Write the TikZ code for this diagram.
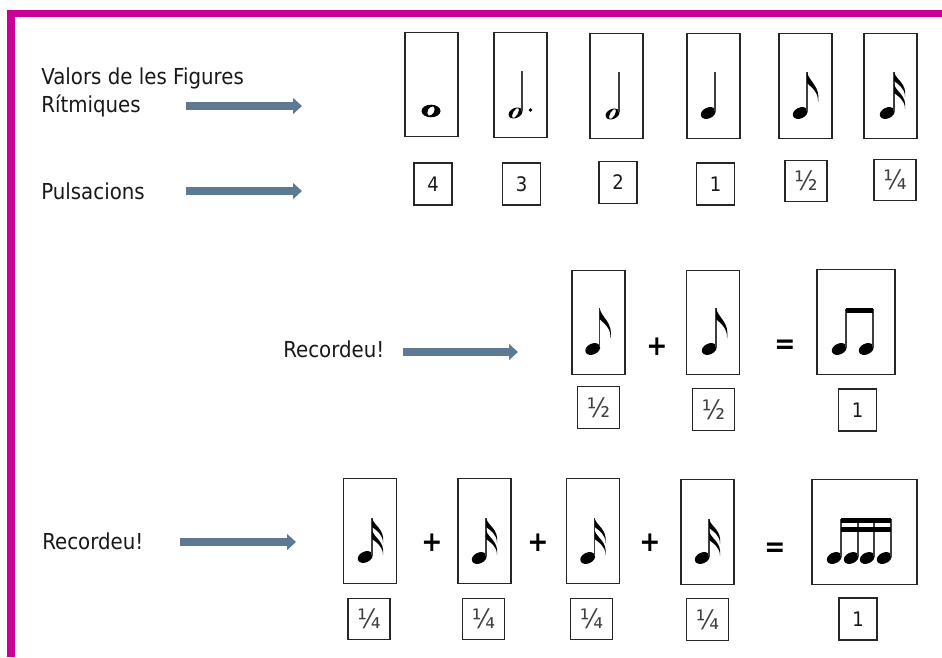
\documentclass[tikz,border=0pt]{standalone}
\usepackage{fontspec}
\setmainfont[FakeStretch=0.9]{DejaVu Sans}
\usetikzlibrary{arrows.meta}
\definecolor{mag}{RGB}{204,0,153}
\definecolor{arrcol}{RGB}{94,121,148}
\definecolor{txt}{RGB}{25,25,25}
\newcommand\qnote[3]{%
  \fill[rotate around={25:(#1-6.8,#3)}] (#1-6.8,#3) ellipse (7.8 and 5.4);
  \draw[stemline] (#1,#3-2) -- (#1,#2);}
\newcommand\hnote[3]{%
  \fill[even odd rule] [rotate around={25:(#1-6.5,#3)}] (#1-6.5,#3) ellipse (7.3 and 5.0)
     [rotate around={35:(#1-6.5,#3)}] (#1-6.5,#3) ellipse (5.6 and 2.4);
  \draw[stemline] (#1,#3-2) -- (#1,#2);}
\newcommand\flagE[2]{%
  \fill (#1,#2) .. controls (#1+2,#2+10) and (#1+14,#2+14) .. (#1+11,#2+31)
     .. controls (#1+12,#2+20) and (#1+4,#2+15) .. (#1,#2+11) -- cycle;}
\newcommand\flagS[2]{%
  \fill (#1,#2) .. controls (#1+2,#2+8) and (#1+13,#2+11) .. (#1+11,#2+25)
     .. controls (#1+11,#2+16) and (#1+4,#2+12) .. (#1,#2+9) -- cycle;}
\begin{document}
\begin{tikzpicture}[x=0.75pt,y=-0.75pt,
  lbl/.style={inner sep=0pt, text=txt, font=\fontsize{16.5}{19}\selectfont},
  notebox/.style={draw=black!85, line width=0.9pt, minimum width=39.75pt, minimum height=78.5pt, inner sep=0pt},
  numbox/.style={draw=black!85, line width=0.9pt, minimum width=28.5pt, minimum height=31.5pt, inner sep=0pt, text=txt, font=\fontsize{15}{15}\selectfont},
  fracbox/.style={draw=black!85, line width=0.9pt, minimum width=31.5pt, minimum height=31pt, inner sep=0pt, text=black!75, font=\fontsize{20}{20}\selectfont},
  opsign/.style={inner sep=0pt, font=\fontsize{21}{21}\bfseries\selectfont},
  bigarrow/.style={draw=arrcol, line width=5.5pt, -{Triangle[length=6.75pt,width=11.8pt]}},
  stemline/.style={draw=black!75, line width=0.8pt}
]
\useasboundingbox (0,0) rectangle (942,657);
\fill[white] (0,0) rectangle (942,657);
% border
\fill[mag] (7,10) rectangle (942,17);
\fill[mag] (7,10) rectangle (15,657);

% labels
\node[lbl, anchor=base west] (valors) at (41,84) {Valors de les Figures};
\node[lbl, anchor=base west] (ritm) at (41,112) {Rítmiques};
\node[lbl, anchor=base west] (puls) at (41,199) {Pulsacions};
\node[lbl, anchor=base west] (rec1) at (283,357) {Recordeu!};
\node[lbl, anchor=base west] (rec2) at (42,549) {Recordeu!};

% arrows
\coordinate (a1s) at (186,106); \coordinate (a1e) at (302,106);
\coordinate (a2s) at (186,191); \coordinate (a2e) at (302,191);
\coordinate (a3s) at (403,352); \coordinate (a3e) at (518,352);
\coordinate (a4s) at (180,542); \coordinate (a4e) at (296,542);
\draw[bigarrow] (a1s) -- (a1e);
\draw[bigarrow] (a2s) -- (a2e);
\draw[bigarrow] (a3s) -- (a3e);
\draw[bigarrow] (a4s) -- (a4e);

% top row boxes
\node[notebox] (t1) at (431.5,84.5) {};
\node[notebox] (t2) at (520.5,85) {};
\node[notebox] (t3) at (616.5,86) {};
\node[notebox] (t4) at (713.5,86) {};
\node[notebox] (t5) at (805.5,86) {};
\node[notebox] (t6) at (890.5,86) {};
% top row numbers
\node[numbox] (n1) at (433,184) {4};
\node[numbox] (n2) at (521.5,184) {3};
\node[numbox] (n3) at (618,182.5) {2};
\node[numbox] (n4) at (715.5,184) {1};
\node[fracbox] (n5) at (806,181) {½};
\node[fracbox] (n6) at (895,180) {¼};

% top row notes
% whole note
\fill[even odd rule] (431,111) ellipse (9.5 and 6.3)
   [rotate around={-30:(431,111)}] (431,111) ellipse (3.2 and 5.0);
% dotted half
\hnote{522}{71}{113}
\fill (530.5,110) circle (1.8);
% half
\hnote{619}{72}{114}
% quarter
\qnote{715}{72}{113}
% eighth
\qnote{807}{72}{113}
\flagE{807}{72}
% sixteenth
\qnote{894}{72}{113}
\flagS{894}{72}
\flagS{894}{84}

% middle row
\node[notebox] (m1) at (598.5,322.5) {};
\node[notebox] (m2) at (713,322.5) {};
\node[notebox, minimum width=58.5pt] (m3) at (856,322) {};
\node[opsign] (mp) at (657,347) {+};
\node[opsign] (me) at (785,347) {=};
\node[fracbox] (mn1) at (598.5,407.5) {½};
\node[fracbox] (mn2) at (713.5,409.5) {½};
\node[numbox] (mn3) at (857.5,410) {1};
\qnote{599.5}{308}{349}
\flagE{599.5}{308}
\qnote{716}{308}{349}
\flagE{716}{308}
\qnote{846}{309}{349}
\qnote{873}{309}{349}
\fill (845.6,308) rectangle (873.4,313);

% bottom row
\node[notebox] (b1) at (370,531) {};
\node[notebox] (b2) at (484.5,531) {};
\node[notebox] (b3) at (593,531) {};
\node[notebox] (b4) at (707.5,532) {};
\node[notebox, minimum width=78.75pt] (b5) at (864.5,532) {};
\node[opsign] (bp1) at (432,543) {+};
\node[opsign] (bp2) at (538,543) {+};
\node[opsign] (bp3) at (650,543) {+};
\node[opsign] (be) at (775,550) {=};
\node[fracbox] (bn1) at (369,619) {¼};
\node[fracbox] (bn2) at (483.5,619) {¼};
\node[fracbox] (bn3) at (591.5,619) {¼};
\node[fracbox] (bn4) at (707.5,619.5) {¼};
\node[numbox] (bn5) at (858,619) {1};
\qnote{372}{518}{557}
\flagS{372}{518}
\flagS{372}{530}
\qnote{486}{518}{558}
\flagS{486}{518}
\flagS{486}{530}
\qnote{594.5}{518}{558}
\flagS{594.5}{518}
\flagS{594.5}{530}
\qnote{709}{519}{558}
\flagS{709}{519}
\flagS{709}{531}
\qnote{841}{519}{558}
\qnote{858}{519}{558}
\qnote{874}{519}{558}
\qnote{891}{519}{558}
\fill (840.6,518) rectangle (891.4,523);
\fill (840.6,527) rectangle (891.4,532);
\end{tikzpicture}
\end{document}
